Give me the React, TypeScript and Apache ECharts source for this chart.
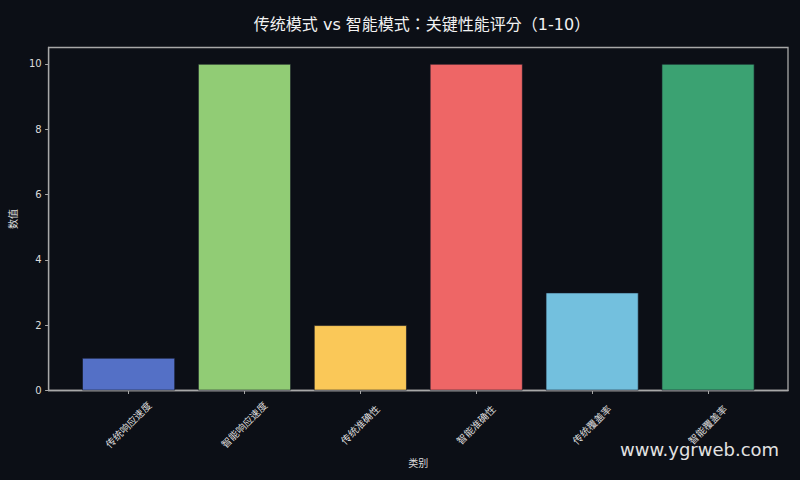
import { useEffect, useRef } from "react";
import * as echarts from "echarts";

const CATEGORIES = ["传统响应速度", "智能响应速度", "传统准确性", "智能准确性", "传统覆盖率", "智能覆盖率"];
const SCORES = [1, 10, 2, 10, 3, 10];
const BAR_COLORS = ["#5470c6", "#91cc75", "#fac858", "#ee6666", "#73c0de", "#3ba272"];
const Y_TICKS = [0, 2, 4, 6, 8, 10];
const X_TICKS = [0, 1, 2, 3, 4, 5];

const FONT = "'DejaVu Sans', 'Noto Sans CJK SC', sans-serif";
const AXIS_COLOR = "#a8a8a8";
const TEXT_COLOR = "#dcdcdc";

export default function App() {
    const chartRef = useRef<HTMLDivElement>(null);

    useEffect(() => {
        if (!chartRef.current) return;
        const chart = echarts.init(chartRef.current, undefined, { renderer: "svg" });

        chart.setOption({
            animation: false,
            backgroundColor: "#0c0f16",
            textStyle: { fontFamily: FONT },
            // title sits over the middle of the plot area, not the page
            title: {
                text: "传统模式 vs 智能模式：关键性能评分（1-10）",
                left: 417,
                textAlign: "center",
                top: 11,
                textStyle: {
                    color: "#f2f2f2",
                    fontSize: 16,
                    fontWeight: "normal",
                    fontFamily: "'DejaVu Sans', 'Noto Sans CJK TC', sans-serif",
                },
            },
            grid: {
                left: 46.5,
                right: 12,
                top: 47.5,
                bottom: 89.5,
                show: true,
                borderColor: AXIS_COLOR,
                borderWidth: 1.3,
            },
            xAxis: {
                type: "value",
                min: -0.69,
                max: 5.69,
                name: "类别",
                nameLocation: "middle",
                nameGap: 68,
                nameTextStyle: { color: TEXT_COLOR, fontSize: 10 },
                splitLine: { show: false },
                axisLine: { show: true, onZero: false, lineStyle: { color: AXIS_COLOR, width: 1.3 } },
                axisTick: { show: true, length: 3.5, customValues: X_TICKS, lineStyle: { color: AXIS_COLOR } },
                axisLabel: {
                    customValues: X_TICKS,
                    formatter: (v: number) => CATEGORIES[Math.round(v)] ?? "",
                    rotate: 45,
                    align: "center",
                    verticalAlign: "middle",
                    margin: 34.5,
                    color: TEXT_COLOR,
                    fontSize: 10,
                },
            },
            yAxis: {
                type: "value",
                min: 0,
                max: 10.5,
                name: "数值",
                nameLocation: "middle",
                nameGap: 27,
                nameRotate: 90,
                nameTextStyle: { color: TEXT_COLOR, fontSize: 10 },
                splitLine: { show: false },
                axisLine: { show: true, onZero: false, lineStyle: { color: AXIS_COLOR, width: 1.3 } },
                axisTick: { show: true, length: 3.5, customValues: Y_TICKS, lineStyle: { color: AXIS_COLOR } },
                axisLabel: {
                    customValues: Y_TICKS,
                    margin: 7,
                    color: TEXT_COLOR,
                    fontSize: 10,
                },
            },
            series: [
                {
                    type: "bar",
                    barWidth: 93,
                    data: SCORES.map((v, i) => ({
                        value: [i, v],
                        itemStyle: { color: BAR_COLORS[i], borderColor: "rgba(20,24,36,0.8)", borderWidth: 0.8 },
                    })),
                },
            ],
            graphic: [
                {
                    type: "text",
                    left: 620,
                    top: 440,
                    style: {
                        text: "www.ygrweb.com",
                        fill: "#e2e2e2",
                        fontSize: 18,
                        fontFamily: "'DejaVu Sans', sans-serif",
                    },
                },
            ],
        });

        return () => {
            chart.dispose();
        };
    }, []);

    return (
        <div
            ref={chartRef}
            style={{ position: "fixed", left: 0, top: 0, width: 800, height: 480 }}
        />
    );
}
